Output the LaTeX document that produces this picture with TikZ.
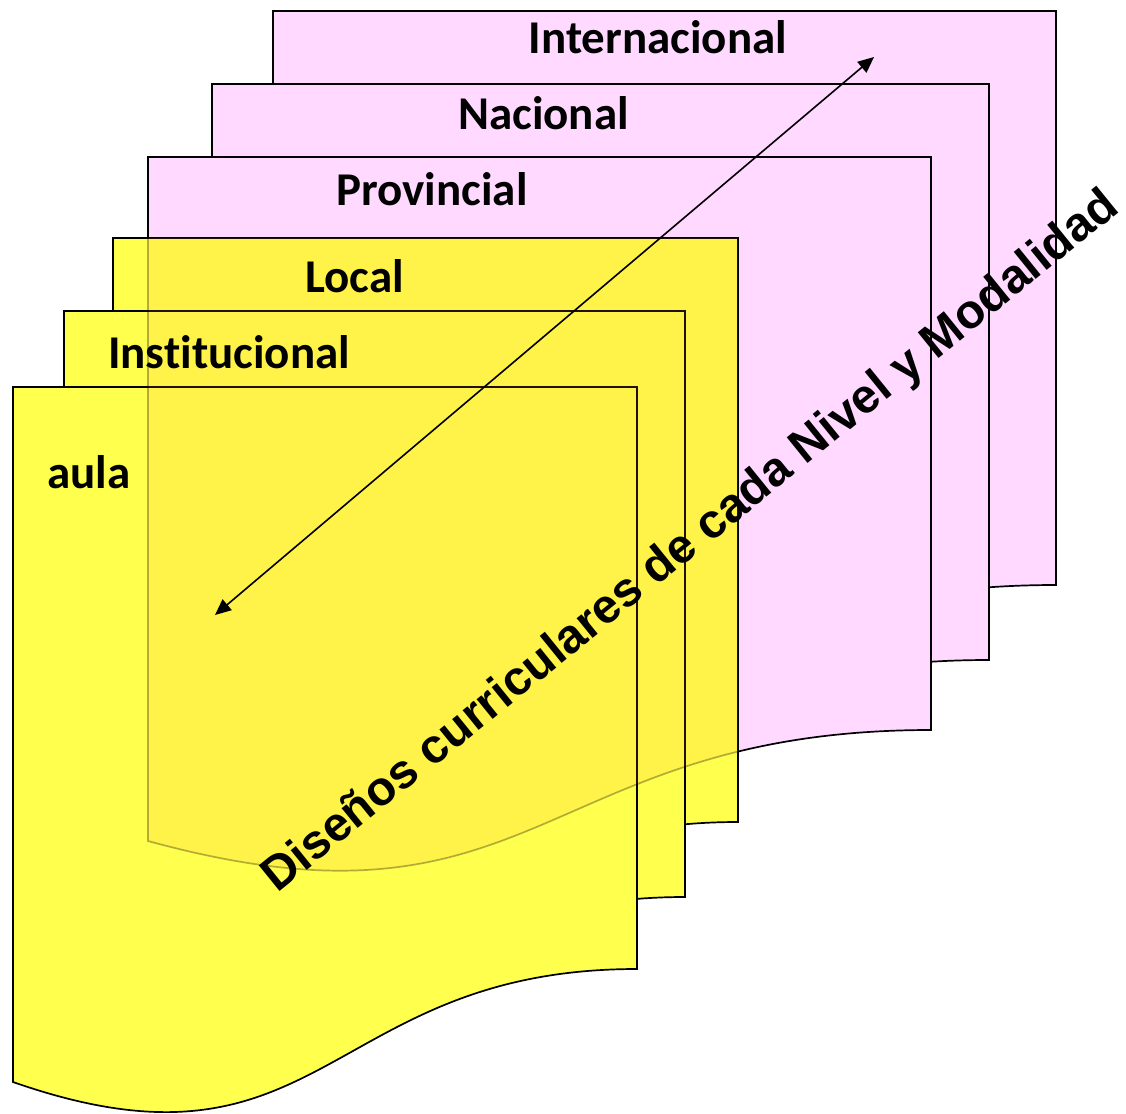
\documentclass[tikz,border=0pt]{standalone}
\usepackage{fontspec}
\setmainfont{Carlito}[Ligatures={NoCommon,NoRare,NoContextual}]
\newfontfamily\arialfont{Liberation Sans}
\usetikzlibrary{arrows.meta}
\definecolor{docpink}{RGB}{255,217,255}
\definecolor{docyellow}{RGB}{255,255,77}
\definecolor{tintc}{RGB}{255,150,40}
\tikzset{
  docbox/.style={draw=black, line width=1.7pt, line join=miter},
  pinkdoc/.style={docbox, fill=docpink},
  yellowdoc/.style={docbox, fill=docyellow},
  lab/.style={font=\bfseries\fontsize{47}{56}\selectfont, anchor=base, inner sep=0pt},
  diag/.style={font=\arialfont\bfseries\fontsize{48}{58}\selectfont, anchor=base west, inner sep=0pt, rotate=39},
  dblarrow/.style={{Triangle[length=16pt,width=14pt]}-{Triangle[length=16pt,width=14pt]}, line width=1.6pt}
}
\begin{document}
\begin{tikzpicture}[x=1pt,y=-1pt]
\useasboundingbox (0,0) rectangle (1126,1113);
% documents, back to front
\path[pinkdoc] (273,11) -- (1056,11) -- (1056,585) .. controls (664.5,585) and (664.5,803.7) .. (273,696) -- cycle;
\path[pinkdoc] (212,84) -- (989,84) -- (989,660) .. controls (600.5,660) and (600.5,879.5) .. (212,771) -- cycle;
\path[pinkdoc] (148,157) -- (931,157) -- (931,730) .. controls (539.5,730) and (539.5,948.4) .. (148,841) -- cycle;
\path[yellowdoc] (113,238) -- (738,238) -- (738,822) .. controls (425.5,822) and (425.5,1044.5) .. (113,935) -- cycle;
\path[yellowdoc] (64,311) -- (685,311) -- (685,897) .. controls (374.5,897) and (374.5,1120) .. (64,1010) -- cycle;
\path[yellowdoc] (13,387) -- (637,387) -- (637,969) .. controls (325,969) and (325,1191) .. (13,1082) -- cycle;
% translucent Provincial outline seen through the yellow sheets
\begin{scope}
\clip (113,238) -- (738,238) -- (738,822) .. controls (425.5,822) and (425.5,1044.5) .. (113,935) -- cycle
      (64,311) -- (685,311) -- (685,897) .. controls (374.5,897) and (374.5,1120) .. (64,1010) -- cycle
      (13,387) -- (637,387) -- (637,969) .. controls (325,969) and (325,1191) .. (13,1082) -- cycle;
\fill[tintc, fill opacity=0.12] (148,157) -- (931,157) -- (931,730) .. controls (539.5,730) and (539.5,948.4) .. (148,841) -- cycle;
\draw[black, draw opacity=0.3, line width=1.7pt] (148,157) -- (931,157) -- (931,730) .. controls (539.5,730) and (539.5,948.4) .. (148,841) -- cycle;
\end{scope}
% labels
\node[lab] (tint) at (658,54) {Internacional};
\node[lab] (tnac) at (543.5,129) {Nacional};
\node[lab] (tprov) at (432,205.5) {Provincial};
\node[lab] (tloc) at (354.5,292) {Local};
\node[lab] (tinst) at (229,368) {Institucional};
\node[lab] (taula) at (89,488) {aula};
% double arrow
\coordinate (aend) at (874,57);
\coordinate (astart) at (215,615);
\draw[dblarrow] (astart) -- (aend);
% diagonal title
\node[diag] (tdiag) at (277,894) {Diseños curriculares de cada Nivel y Modalidad};
\end{tikzpicture}
\end{document}
